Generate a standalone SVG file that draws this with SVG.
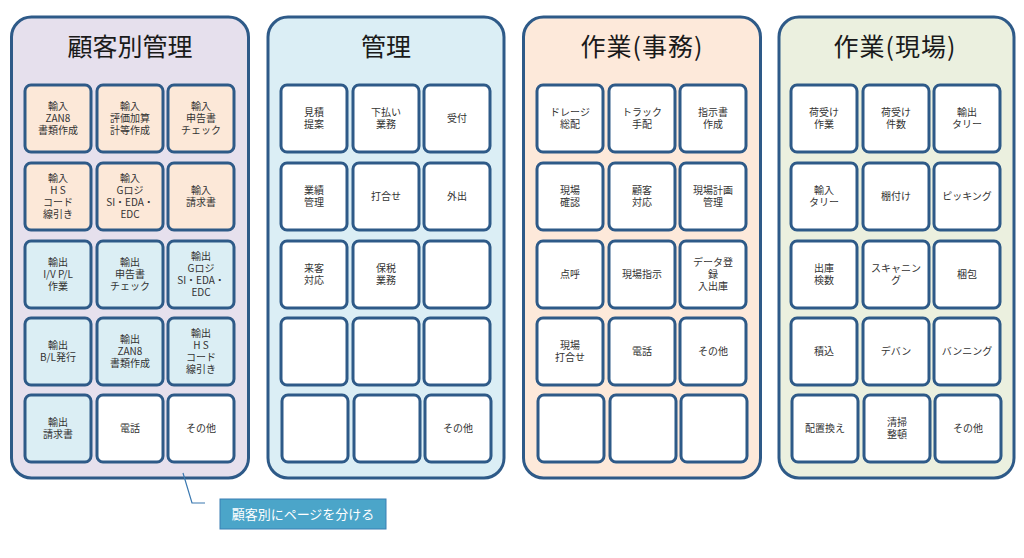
<svg xmlns="http://www.w3.org/2000/svg" width="1024" height="558" viewBox="0 0 1024 558">
<style>
.panel{stroke:#2e5a88;stroke-width:3}
.p1{fill:#e6e0ed}.p2{fill:#dbeef5}.p3{fill:#fde9da}.p4{fill:#ebf0df}
.tile{stroke:#2e5a88;stroke-width:3;fill:#ffffff}
.or{fill:#fce8d8}.bl{fill:#dbeef4}
.title{font-family:"Noto Sans CJK JP","Liberation Sans",sans-serif;font-size:25px;fill:#1a1a1a;text-anchor:middle}
.t{font-family:"Noto Sans CJK JP","Liberation Sans",sans-serif;font-size:10px;fill:#333333;text-anchor:middle}
.cl{font-family:"Noto Sans CJK JP","Liberation Sans",sans-serif;font-size:13px;fill:#ffffff;text-anchor:middle}
</style>
<rect width="1024" height="558" fill="#ffffff"/>

<g id="panel-kokyaku">
<rect class="panel p1" x="11.5" y="17" width="237" height="461" rx="20"/>
<text class="title" x="130" y="56">顧客別管理</text>
</g>
<g id="panel-kanri">
<rect class="panel p2" x="268" y="17" width="236" height="461" rx="20"/>
<text class="title" x="386" y="56">管理</text>
</g>
<g id="panel-jimu">
<rect class="panel p3" x="523.5" y="17" width="237" height="461" rx="20"/>
<text class="title" x="642" y="56" letter-spacing="1">作業(事務)</text>
</g>
<g id="panel-genba">
<rect class="panel p4" x="779" y="17" width="235" height="461" rx="20"/>
<text class="title" x="895" y="56" letter-spacing="1">作業(現場)</text>
</g>

<!-- Panel 1 tiles -->
<g id="k11"><rect class="tile or" x="25" y="85" width="66" height="67" rx="6"/><text class="t" x="58" y="110">輸入<tspan x="58" dy="12">ZAN8</tspan><tspan x="58" dy="12">書類作成</tspan></text></g>
<g id="k12"><rect class="tile or" x="97" y="85" width="66" height="67" rx="6"/><text class="t" x="130" y="110">輸入<tspan x="130" dy="12">評価加算</tspan><tspan x="130" dy="12">計等作成</tspan></text></g>
<g id="k13"><rect class="tile or" x="168" y="85" width="66" height="67" rx="6"/><text class="t" x="201" y="110">輸入<tspan x="201" dy="12">申告書</tspan><tspan x="201" dy="12">チェック</tspan></text></g>
<g id="k21"><rect class="tile or" x="25" y="163" width="66" height="67" rx="6"/><text class="t" x="58" y="182">輸入<tspan x="58" dy="12">H S</tspan><tspan x="58" dy="12">コード</tspan><tspan x="58" dy="12">線引き</tspan></text></g>
<g id="k22"><rect class="tile or" x="97" y="163" width="66" height="67" rx="6"/><text class="t" x="130" y="182">輸入<tspan x="130" dy="12">Gロジ</tspan><tspan x="130" dy="12">SI・EDA・</tspan><tspan x="130" dy="12">EDC</tspan></text></g>
<g id="k23"><rect class="tile or" x="168" y="163" width="66" height="67" rx="6"/><text class="t" x="201" y="194">輸入<tspan x="201" dy="12">請求書</tspan></text></g>
<g id="k31"><rect class="tile bl" x="25" y="241" width="66" height="67" rx="6"/><text class="t" x="58" y="266">輸出<tspan x="58" dy="12">I/V  P/L</tspan><tspan x="58" dy="12">作業</tspan></text></g>
<g id="k32"><rect class="tile bl" x="97" y="241" width="66" height="67" rx="6"/><text class="t" x="130" y="266">輸出<tspan x="130" dy="12">申告書</tspan><tspan x="130" dy="12">チェック</tspan></text></g>
<g id="k33"><rect class="tile bl" x="168" y="241" width="66" height="67" rx="6"/><text class="t" x="201" y="260">輸出<tspan x="201" dy="12">Gロジ</tspan><tspan x="201" dy="12">SI・EDA・</tspan><tspan x="201" dy="12">EDC</tspan></text></g>
<g id="k41"><rect class="tile bl" x="25" y="318" width="66" height="67" rx="6"/><text class="t" x="58" y="349">輸出<tspan x="58" dy="12">B/L発行</tspan></text></g>
<g id="k42"><rect class="tile bl" x="97" y="318" width="66" height="67" rx="6"/><text class="t" x="130" y="343">輸出<tspan x="130" dy="12">ZAN8</tspan><tspan x="130" dy="12">書類作成</tspan></text></g>
<g id="k43"><rect class="tile bl" x="168" y="318" width="66" height="67" rx="6"/><text class="t" x="201" y="337">輸出<tspan x="201" dy="12">H S</tspan><tspan x="201" dy="12">コード</tspan><tspan x="201" dy="12">線引き</tspan></text></g>
<g id="k51"><rect class="tile bl" x="25" y="395" width="66" height="67" rx="6"/><text class="t" x="58" y="426">輸出<tspan x="58" dy="12">請求書</tspan></text></g>
<g id="k52"><rect class="tile" x="97" y="395" width="66" height="67" rx="6"/><text class="t" x="130" y="432">電話</text></g>
<g id="k53"><rect class="tile" x="168" y="395" width="66" height="67" rx="6"/><text class="t" x="201" y="432">その他</text></g>

<!-- Panel 2 tiles -->
<g id="m11"><rect class="tile" x="281" y="85" width="66" height="67" rx="6"/><text class="t" x="314" y="116">見積<tspan x="314" dy="12">提案</tspan></text></g>
<g id="m12"><rect class="tile" x="353" y="85" width="66" height="67" rx="6"/><text class="t" x="386" y="116">下払い<tspan x="386" dy="12">業務</tspan></text></g>
<g id="m13"><rect class="tile" x="424" y="85" width="66" height="67" rx="6"/><text class="t" x="457" y="122">受付</text></g>
<g id="m21"><rect class="tile" x="281" y="163" width="66" height="67" rx="6"/><text class="t" x="314" y="194">業績<tspan x="314" dy="12">管理</tspan></text></g>
<g id="m22"><rect class="tile" x="353" y="163" width="66" height="67" rx="6"/><text class="t" x="386" y="200">打合せ</text></g>
<g id="m23"><rect class="tile" x="424" y="163" width="66" height="67" rx="6"/><text class="t" x="457" y="200">外出</text></g>
<g id="m31"><rect class="tile" x="281" y="241" width="66" height="67" rx="6"/><text class="t" x="314" y="272">来客<tspan x="314" dy="12">対応</tspan></text></g>
<g id="m32"><rect class="tile" x="353" y="241" width="66" height="67" rx="6"/><text class="t" x="386" y="272">保税<tspan x="386" dy="12">業務</tspan></text></g>
<g id="m33"><rect class="tile" x="424" y="241" width="66" height="67" rx="6"/></g>
<g id="m41"><rect class="tile" x="281" y="318" width="66" height="67" rx="6"/></g>
<g id="m42"><rect class="tile" x="353" y="318" width="66" height="67" rx="6"/></g>
<g id="m43"><rect class="tile" x="424" y="318" width="66" height="67" rx="6"/></g>
<g id="m51"><rect class="tile" x="282" y="395" width="66" height="67" rx="6"/></g>
<g id="m52"><rect class="tile" x="354" y="395" width="66" height="67" rx="6"/></g>
<g id="m53"><rect class="tile" x="425" y="395" width="66" height="67" rx="6"/><text class="t" x="458" y="432">その他</text></g>

<!-- Panel 3 tiles -->
<g id="j11"><rect class="tile" x="537" y="85" width="66" height="67" rx="6"/><text class="t" x="570" y="116">ドレージ<tspan x="570" dy="12">総配</tspan></text></g>
<g id="j12"><rect class="tile" x="609" y="85" width="66" height="67" rx="6"/><text class="t" x="642" y="116">トラック<tspan x="642" dy="12">手配</tspan></text></g>
<g id="j13"><rect class="tile" x="680" y="85" width="66" height="67" rx="6"/><text class="t" x="713" y="116">指示書<tspan x="713" dy="12">作成</tspan></text></g>
<g id="j21"><rect class="tile" x="537" y="163" width="66" height="67" rx="6"/><text class="t" x="570" y="194">現場<tspan x="570" dy="12">確認</tspan></text></g>
<g id="j22"><rect class="tile" x="609" y="163" width="66" height="67" rx="6"/><text class="t" x="642" y="194">顧客<tspan x="642" dy="12">対応</tspan></text></g>
<g id="j23"><rect class="tile" x="680" y="163" width="66" height="67" rx="6"/><text class="t" x="713" y="194">現場計画<tspan x="713" dy="12">管理</tspan></text></g>
<g id="j31"><rect class="tile" x="537" y="241" width="66" height="67" rx="6"/><text class="t" x="570" y="278">点呼</text></g>
<g id="j32"><rect class="tile" x="609" y="241" width="66" height="67" rx="6"/><text class="t" x="642" y="278">現場指示</text></g>
<g id="j33"><rect class="tile" x="680" y="241" width="66" height="67" rx="6"/><text class="t" x="713" y="266">データ登<tspan x="713" dy="12">録</tspan><tspan x="713" dy="12">入出庫</tspan></text></g>
<g id="j41"><rect class="tile" x="537" y="318" width="66" height="67" rx="6"/><text class="t" x="570" y="349">現場<tspan x="570" dy="12">打合せ</tspan></text></g>
<g id="j42"><rect class="tile" x="609" y="318" width="66" height="67" rx="6"/><text class="t" x="642" y="355">電話</text></g>
<g id="j43"><rect class="tile" x="680" y="318" width="66" height="67" rx="6"/><text class="t" x="713" y="355">その他</text></g>
<g id="j51"><rect class="tile" x="538" y="395" width="66" height="67" rx="6"/></g>
<g id="j52"><rect class="tile" x="610" y="395" width="66" height="67" rx="6"/></g>
<g id="j53"><rect class="tile" x="681" y="395" width="66" height="67" rx="6"/></g>

<!-- Panel 4 tiles -->
<g id="g11"><rect class="tile" x="791" y="85" width="66" height="67" rx="6"/><text class="t" x="824" y="116">荷受け<tspan x="824" dy="12">作業</tspan></text></g>
<g id="g12"><rect class="tile" x="863" y="85" width="66" height="67" rx="6"/><text class="t" x="896" y="116">荷受け<tspan x="896" dy="12">件数</tspan></text></g>
<g id="g13"><rect class="tile" x="934" y="85" width="66" height="67" rx="6"/><text class="t" x="967" y="116">輸出<tspan x="967" dy="12">タリー</tspan></text></g>
<g id="g21"><rect class="tile" x="791" y="163" width="66" height="67" rx="6"/><text class="t" x="824" y="194">輸入<tspan x="824" dy="12">タリー</tspan></text></g>
<g id="g22"><rect class="tile" x="863" y="163" width="66" height="67" rx="6"/><text class="t" x="896" y="200">棚付け</text></g>
<g id="g23"><rect class="tile" x="934" y="163" width="66" height="67" rx="6"/><text class="t" x="967" y="200">ピッキング</text></g>
<g id="g31"><rect class="tile" x="791" y="241" width="66" height="67" rx="6"/><text class="t" x="824" y="272">出庫<tspan x="824" dy="12">検数</tspan></text></g>
<g id="g32"><rect class="tile" x="863" y="241" width="66" height="67" rx="6"/><text class="t" x="896" y="272">スキャニン<tspan x="896" dy="12">グ</tspan></text></g>
<g id="g33"><rect class="tile" x="934" y="241" width="66" height="67" rx="6"/><text class="t" x="967" y="278">梱包</text></g>
<g id="g41"><rect class="tile" x="791" y="318" width="66" height="67" rx="6"/><text class="t" x="824" y="355">積込</text></g>
<g id="g42"><rect class="tile" x="863" y="318" width="66" height="67" rx="6"/><text class="t" x="896" y="355">デバン</text></g>
<g id="g43"><rect class="tile" x="934" y="318" width="66" height="67" rx="6"/><text class="t" x="967" y="355">バンニング</text></g>
<g id="g51"><rect class="tile" x="792" y="395" width="66" height="67" rx="6"/><text class="t" x="825" y="432">配置換え</text></g>
<g id="g52"><rect class="tile" x="864" y="395" width="66" height="67" rx="6"/><text class="t" x="897" y="426">清掃<tspan x="897" dy="12">整頓</tspan></text></g>
<g id="g53"><rect class="tile" x="935" y="395" width="66" height="67" rx="6"/><text class="t" x="968" y="432">その他</text></g>

<g id="connectors">
<polyline points="183,473 192,503 205,503" fill="none" stroke="#3a78b0" stroke-width="1.2"/>
</g>
<g id="callout">
<rect x="220" y="499" width="166" height="30" fill="#4ba5c9" stroke="#3a7fb3" stroke-width="1"/>
<text class="cl" x="303" y="519">顧客別にページを分ける</text>
</g>
</svg>
